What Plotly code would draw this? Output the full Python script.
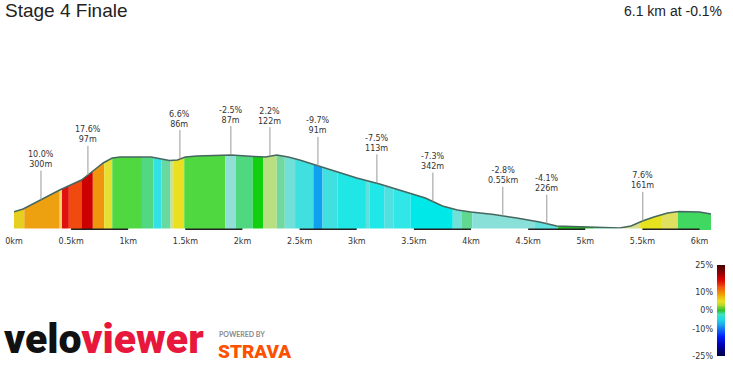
import numpy as np
import plotly.graph_objects as go

# ---------------- data ----------------
title_text = "Stage 4 Finale"
summary_text = "6.1 km at -0.1%"

# elevation profile (km, m)
dist_km = [0.00, 0.08, 0.40, 0.59, 0.68, 0.78, 0.86, 0.93, 1.20, 1.28, 1.36, 1.43, 1.50, 1.60,
           1.90, 2.10, 2.20, 2.30, 2.40, 2.50, 2.65, 2.80, 3.00, 3.20, 3.40, 3.60, 3.75, 3.88,
           4.00, 4.20, 4.40, 4.60, 4.75, 4.90, 5.10, 5.30, 5.40, 5.50, 5.60, 5.72, 5.82, 6.00, 6.10]
elev_m = [129.3, 133.6, 164.0, 180.0, 192.8, 207.2, 215.2, 216.8, 216.8, 213.6, 211.2, 212.0, 216.8, 218.4,
          220.0, 217.6, 216.8, 220.0, 216.8, 212.0, 203.2, 194.4, 183.2, 173.6, 162.4, 151.2, 138.4, 132.0,
          128.8, 124.8, 119.2, 112.8, 106.4, 105.6, 104.8, 103.2, 106.4, 114.4, 120.8, 127.2, 129.6, 128.8, 125.6]

# gradient segments (start km, gradient %)
seg_start_km = [0.00, 0.09, 0.40, 0.42, 0.48, 0.59, 0.69, 0.79, 0.86, 1.12, 1.22, 1.29, 1.37, 1.40,
                1.49, 1.85, 1.94, 2.09, 2.18, 2.30, 2.37, 2.46, 2.62, 2.70, 2.83, 3.08, 3.11, 3.24,
                3.32, 3.47, 3.84, 3.92, 4.01, 4.56, 4.76, 5.08, 5.30, 5.48, 5.67, 5.81]
seg_end_km = seg_start_km[1:] + [6.10]
seg_grade = [4.0, 10.0, 3.0, 14.0, 12.0, 17.6, 9.0, 5.0, 0.0, -0.5, -3.0, -1.0, 2.0, 6.6,
             0.5, -2.5, -0.5, 0.0, 2.2, -1.0, -2.0, -5.0, -9.7, -6.0, -7.0, -4.0, -7.5, -5.0,
             -6.0, -7.3, -3.0, -1.0, -2.8, -4.1, 0.0, -0.5, 3.0, 7.6, 5.0, 0.0]

# labelled climbs / descents
ann_km = [0.236, 0.647, 1.452, 1.898, 2.24, 2.66, 3.176, 3.666, 4.278, 4.663, 5.503]
ann_grade = ["10.0%", "17.6%", "6.6%", "-2.5%", "2.2%", "-9.7%", "-7.5%", "-7.3%", "-2.8%", "-4.1%", "7.6%"]
ann_length = ["300m", "97m", "86m", "87m", "122m", "91m", "113m", "342m", "0.55km", "226m", "161m"]

# axis ticks
tick_km = [0, 0.5, 1, 1.5, 2, 2.5, 3, 3.5, 4, 4.5, 5, 5.5, 6]
tick_labels = ["0km", "0.5km", "1km", "1.5km", "2km", "2.5km", "3km", "3.5km", "4km", "4.5km", "5km", "5.5km", "6km"]

# gradient legend
legend_ticks = [25, 10, 0, -10, -25]
legend_labels = ["25%", "10%", "0%", "-10%", "-25%"]

# ---------------- styles ----------------
seg_colors = ["#e6cf1f", "#eda010", "#f0d070", "#e0120e", "#f04a10", "#cc0000", "#f0960e", "#e8e030",
              "#4fd83f", "#52d882", "#33e0e6", "#66d8a0", "#d6e080", "#e8e020",
              "#50d840", "#90e0d8", "#50d880", "#10d010", "#b8e080", "#70d8a0", "#70e0d8",
              "#40e0e0", "#10a0f0", "#40e0e0", "#20e6e6", "#60e0d8", "#20e8e8", "#50e0e0",
              "#30e6e6", "#00e8e8", "#70e0d8", "#60d890", "#88e0d8", "#60e0e0", "#20c020",
              "#50c890", "#d8e090", "#e6e21e", "#e0e060", "#40d860"]

grade_colorscale = [
    [0.00, "#000040"], [0.12, "#0000b0"], [0.22, "#0020ff"], [0.32, "#1890f0"],
    [0.40, "#20d8e8"], [0.46, "#40e0c0"], [0.50, "#30c030"], [0.55, "#a0d830"],
    [0.60, "#e8e020"], [0.68, "#f0a000"], [0.76, "#f05010"], [0.84, "#d80000"],
    [1.00, "#400000"],
]

W, H = 733, 387
def px(x):
    return x / W
def py(y):
    return (H - y) / H

Y0, Y1 = 100, 308
d = np.array(dist_km)
e = np.array(elev_m)

fig = go.Figure()

# coloured gradient segments
for s, t, g, c in zip(seg_start_km, seg_end_km, seg_grade, seg_colors):
    inner = d[(d > s) & (d < t)]
    xs = np.concatenate([[s], inner, [t]])
    ys = np.interp(xs, d, e)
    fig.add_trace(go.Scatter(x=xs, y=ys, mode="lines", line=dict(width=0, color=c),
                             fill="tozeroy", fillcolor=c, hoverinfo="skip", showlegend=False))

# profile outline
fig.add_trace(go.Scatter(x=d, y=e, mode="lines", line=dict(color="#46675f", width=1.5),
                         hoverinfo="skip", showlegend=False))

# km bar under profile (alternating half km)
for i in range(len(tick_km) - 1):
    a, b = tick_km[i], tick_km[i + 1]
    fig.add_trace(go.Scatter(x=[a, b], y=[Y0, Y0], mode="lines",
                             line=dict(color="#222222" if i % 2 == 1 else "#ffffff", width=3),
                             hoverinfo="skip", showlegend=False))

# gradient legend as heatmap strip
cb_vals = np.arange(-25, 25.01, 0.5)
fig.add_trace(go.Heatmap(x=[0, 1], y=cb_vals, z=[[v, v] for v in cb_vals], colorscale=grade_colorscale,
                         zmin=-25, zmax=25, showscale=False, xaxis="x2", yaxis="y2", hoverinfo="skip"))

annotations = []
for k, gtxt, ltxt in zip(ann_km, ann_grade, ann_length):
    annotations.append(dict(
        x=k, y=float(np.interp(k, d, e)), xref="x", yref="y",
        text=f"{gtxt}<br>{ltxt}", showarrow=True, arrowhead=0, arrowwidth=1,
        arrowcolor="#999999", ax=0, ay=-40,
        font=dict(family="DejaVu Sans", size=8, color="#333333"),
    ))

annotations += [
    dict(x=px(3), y=py(11), xref="paper", yref="paper", text=title_text, showarrow=False,
         xanchor="left", yanchor="middle", font=dict(family="Liberation Sans", size=19, color="#222222")),
    dict(x=px(724), y=py(11), xref="paper", yref="paper", text=summary_text, showarrow=False,
         xanchor="right", yanchor="middle", font=dict(family="Liberation Sans", size=14, color="#222222")),
    dict(x=px(2), y=py(339), xref="paper", yref="paper",
         text='<span style="color:#111111">velo</span><span style="color:#e8173c">viewer</span>',
         showarrow=False, xanchor="left", yanchor="middle",
         font=dict(family="Roboto Black, Roboto", size=41, weight=900)),
    dict(x=px(217), y=py(334), xref="paper", yref="paper", text="POWERED BY", showarrow=False,
         xanchor="left", yanchor="middle", font=dict(family="Lato", size=7, color="#8a8a8a", weight=700)),
    dict(x=px(216), y=py(351), xref="paper", yref="paper", text="STRAVA", showarrow=False,
         xanchor="left", yanchor="middle",
         font=dict(family="Roboto Black, Roboto", size=19, color="#fc5200", weight=900)),
]

fig.update_layout(
    width=W, height=H, margin=dict(l=0, r=0, t=0, b=0, pad=0, autoexpand=False),
    paper_bgcolor="white", plot_bgcolor="white", showlegend=False,
    annotations=annotations, hovermode=False,
    xaxis=dict(domain=[px(14), px(711)], range=[0, 6.1], anchor="y", automargin=False,
               tickvals=tick_km, ticktext=tick_labels, showgrid=False, zeroline=False,
               showline=False, ticks="", ticklabelstandoff=5,
               tickfont=dict(family="DejaVu Sans", size=8, color="#333333")),
    yaxis=dict(domain=[py(230), py(100)], range=[Y0, Y1], visible=False, automargin=False),
    xaxis2=dict(domain=[px(717), px(725)], anchor="y2", visible=False, range=[-0.5, 1.5], automargin=False),
    yaxis2=dict(domain=[py(356), py(265)], anchor="x2", range=[-25, 25], side="left", automargin=False,
                tickvals=legend_ticks, ticktext=legend_labels, showgrid=False, zeroline=False,
                showline=False, ticks="", ticklabelstandoff=3,
                tickfont=dict(family="DejaVu Sans", size=8, color="#333333")),
)

fig.write_html("out.html", config={"displayModeBar": False, "staticPlot": True},
               post_script="document.body.style.margin='0';document.body.style.overflow='hidden';")
